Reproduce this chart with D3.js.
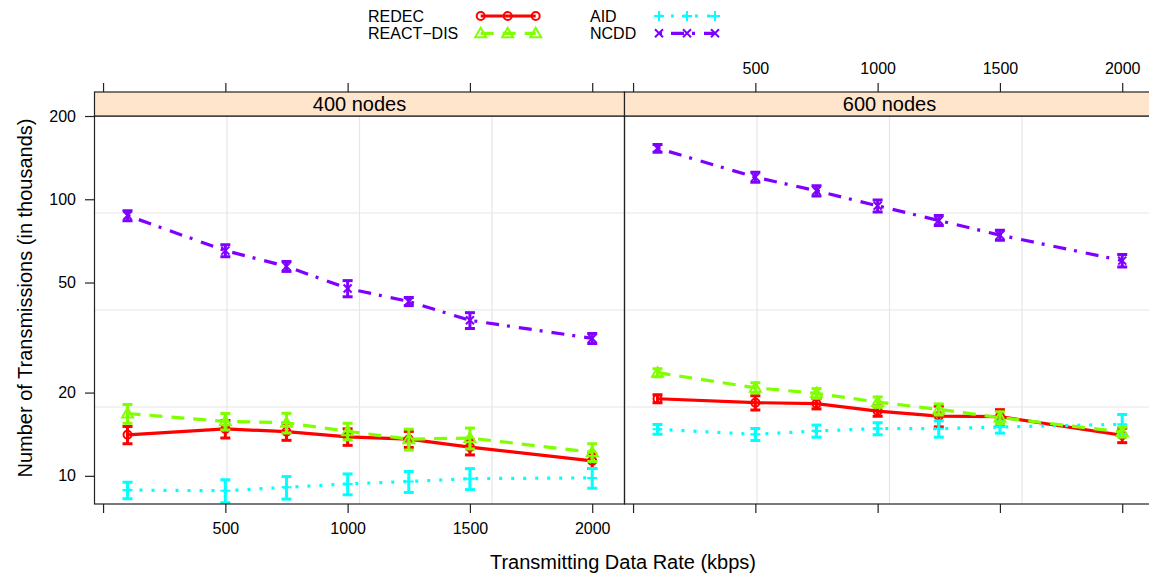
<!DOCTYPE html>
<html>
<head>
<meta charset="utf-8">
<script src="https://cdn.jsdelivr.net/npm/d3@7"></script>
<style>
  html, body { margin: 0; padding: 0; background: #fff; }
  svg { display: block; font-family: "Liberation Sans", Arial, Helvetica, sans-serif; }
</style>
</head>
<body>
<svg id="chart" width="1149" height="575"></svg>
<script>
// ---------------- data ----------------
const rates = [100, 500, 750, 1000, 1250, 1500, 2000];
const panels = ["400 nodes", "600 nodes"];
const seriesNames = ["REDEC", "AID", "REACT\u2212DIS", "NCDD"];
const seriesColors = ["#ff0000", "#00ffff", "#80ff00", "#8000ff"];

const xTicks = [0, 500, 1000, 1500, 2000];
const xTickLabels = ["", "500", "1000", "1500", "2000"];
const yTicks = [10, 20, 50, 100, 200];
const yTickLabels = ["10", "20", "50", "100", "200"];

// 400 nodes
const redec400 = [14.07, 14.78, 14.44, 13.84, 13.57, 12.7, 11.32];
const redec400Err = [1.0, 1.07, 1.0, 0.95, 0.9, 0.8, 0.7];
const aid400 = [8.88, 8.83, 9.09, 9.35, 9.54, 9.77, 9.83];
const aid400Err = [0.61, 0.84, 0.85, 0.81, 0.83, 0.85, 0.81];
const react400 = [16.8, 15.74, 15.56, 14.49, 13.57, 13.7, 12.17];
const react400Err = [1.3, 1.08, 1.27, 1.0, 1.18, 1.19, 0.9];
const ncdd400 = [87.3, 65.2, 57.2, 47.6, 42.7, 36.5, 31.4];
const ncdd400Err = [3.6, 3.25, 2.35, 3.2, 1.45, 2.4, 1.3];

// 600 nodes
const redec600 = [19.0, 18.39, 18.24, 17.15, 16.45, 16.37, 14.02];
const redec600Err = [0.63, 1.1, 0.78, 0.73, 1.42, 0.98, 0.84];
const aid600 = [14.73, 14.13, 14.53, 14.82, 14.8, 15.02, 15.36];
const aid600Err = [0.6, 0.7, 0.73, 0.74, 1.0, 0.75, 1.3];
const react600 = [23.6, 20.82, 19.87, 18.48, 17.39, 16.24, 14.4];
const react600Err = [0.8, 0.9, 0.8, 0.8, 0.8, 0.8, 0.6];
const ncdd600 = [152.9, 120.2, 107.3, 94.7, 83.8, 74.2, 60.0];
const ncdd600Err = [5.0, 5.0, 4.5, 4.7, 3.5, 3.1, 3.1];

const panelData = [
  [[redec400, redec400Err], [aid400, aid400Err], [react400, react400Err], [ncdd400, ncdd400Err]],
  [[redec600, redec600Err], [aid600, aid600Err], [react600, react600Err], [ncdd600, ncdd600Err]]
];

// ---------------- layout ----------------
const svg = d3.select("#chart");
svg.append("rect").attr("width", 1149).attr("height", 575).attr("fill", "#fff");

const panelLefts = [94.5, 624.5];
const panelW = 530;
const panelTop = 116, panelBottom = 504, stripTop = 92;
const frameColor = "#222";
const dashes = ["none", "3,9", "13,9", "3,9,13,8"];
const lineW = 3.2;

const y = d3.scaleLog().domain([7.91, 200]).range([panelBottom, panelTop]);

function markerPath(type, cx, cy) {
  if (type === 1) return `M${cx-5},${cy}H${cx+5}M${cx},${cy-5}V${cy+5}`;
  if (type === 2) return `M${cx},${cy-5.5}L${cx+5.5},${cy+4}L${cx-5.5},${cy+4}Z`;
  return `M${cx-4},${cy-4}L${cx+4},${cy+4}M${cx-4},${cy+4}L${cx+4},${cy-4}`;
}

panels.forEach((pName, pi) => {
  const left = panelLefts[pi];
  const x = d3.scaleLinear().domain([-35, 2132]).range([left, left + panelW]);
  const g = svg.append("g");

  // grid
  for (let k = 1; k < 4; k++) {
    const gx = left + panelW * k / 4;
    const gy = panelTop + (panelBottom - panelTop) * k / 4;
    g.append("line").attr("x1", gx).attr("x2", gx).attr("y1", panelTop).attr("y2", panelBottom)
      .attr("stroke", "#e6e6e6").attr("stroke-width", 1.2);
    g.append("line").attr("x1", left).attr("x2", left + panelW).attr("y1", gy).attr("y2", gy)
      .attr("stroke", "#e6e6e6").attr("stroke-width", 1.2);
  }

  // series
  const clip = "clip" + pi;
  svg.append("clipPath").attr("id", clip).append("rect")
    .attr("x", left).attr("y", panelTop).attr("width", panelW).attr("height", panelBottom - panelTop);
  const sg = g.append("g").attr("clip-path", `url(#${clip})`);

  panelData[pi].forEach(([vals, errs], si) => {
    const col = seriesColors[si];
    const pts = rates.map((r, i) => ({ r, v: vals[i], e: errs[i] }));
    const line = d3.line().x(d => x(d.r)).y(d => y(d.v));
    sg.append("path").datum(pts).attr("d", line)
      .attr("fill", "none").attr("stroke", col).attr("stroke-width", lineW)
      .attr("stroke-dasharray", dashes[si]).attr("stroke-linecap", "butt");
    pts.forEach(d => {
      const cx = x(d.r), y1 = y(d.v + d.e), y0 = y(d.v - d.e);
      sg.append("line").attr("x1", cx).attr("x2", cx).attr("y1", y1).attr("y2", y0)
        .attr("stroke", col).attr("stroke-width", 3);
      [y1, y0].forEach(yy => sg.append("line").attr("x1", cx - 5).attr("x2", cx + 5)
        .attr("y1", yy).attr("y2", yy).attr("stroke", col).attr("stroke-width", 3));
      const cy = y(d.v);
      if (si === 0) {
        sg.append("circle").attr("cx", cx).attr("cy", cy).attr("r", 4)
          .attr("fill", "none").attr("stroke", col).attr("stroke-width", 2);
      } else {
        sg.append("path").attr("d", markerPath(si, cx, cy)).attr("fill", "none")
          .attr("stroke", col).attr("stroke-width", 2);
      }
    });
  });

  // frame
  g.append("rect").attr("x", left).attr("y", panelTop).attr("width", panelW)
    .attr("height", panelBottom - panelTop).attr("fill", "none").attr("stroke", frameColor).attr("stroke-width", 1.2);
  // strip
  g.append("rect").attr("x", left).attr("y", stripTop).attr("width", panelW)
    .attr("height", panelTop - stripTop).attr("fill", "#ffe5cc").attr("stroke", frameColor).attr("stroke-width", 1.2);
  g.append("text").attr("x", left + panelW / 2).attr("y", (stripTop + panelTop) / 2)
    .attr("dy", "0.36em").attr("text-anchor", "middle").attr("font-size", 20).attr("fill", "#000").text(pName);

  // x axes
  const bottom = d3.axisBottom(x).tickValues(xTicks).tickSize(9).tickSizeOuter(0).tickPadding(9.6)
    .tickFormat((d, i) => pi === 0 ? xTickLabels[i] : "");
  const top = d3.axisTop(x).tickValues(xTicks).tickSize(9).tickSizeOuter(0).tickPadding(9)
    .tickFormat((d, i) => pi === 1 ? xTickLabels[i] : "");
  [[bottom, panelBottom], [top, stripTop]].forEach(([ax, yy]) => {
    const ag = svg.append("g").attr("transform", `translate(0,${yy})`).call(ax);
    ag.select(".domain").remove();
    ag.selectAll("line").attr("stroke", frameColor).attr("stroke-width", 1.2);
    ag.selectAll("text").attr("font-size", 16).attr("font-family", "Liberation Sans, Arial, sans-serif").attr("fill", "#000");
  });
});

// y axis
const yAx = d3.axisLeft(y).tickValues(yTicks).tickSize(9.5).tickSizeOuter(0).tickPadding(9)
  .tickFormat((d, i) => yTickLabels[i]);
const yg = svg.append("g").attr("transform", `translate(${panelLefts[0]},0)`).call(yAx);
yg.select(".domain").remove();
yg.selectAll("line").attr("stroke", frameColor).attr("stroke-width", 1.2);
yg.selectAll("text").attr("font-size", 16).attr("font-family", "Liberation Sans, Arial, sans-serif").attr("fill", "#000");

// axis titles
svg.append("text").attr("x", 623).attr("y", 569).attr("text-anchor", "middle")
  .attr("font-size", 20).attr("fill", "#000").text("Transmitting Data Rate (kbps)");
svg.append("text").attr("transform", "translate(32,298) rotate(-90)").attr("text-anchor", "middle")
  .attr("font-size", 20).attr("fill", "#000").text("Number of Transmissions (in thousands)");

// legend
const legendPos = [
  { tx: 368, ty: 16, sx: [480.7, 507.7, 535.7] },
  { tx: 590, ty: 16, sx: [659, 687, 715] },
  { tx: 368, ty: 33.3, sx: [480.7, 507.7, 535.7] },
  { tx: 590, ty: 33.3, sx: [659, 687, 715] }
];
seriesNames.forEach((name, si) => {
  const p = legendPos[si], col = seriesColors[si];
  svg.append("text").attr("x", p.tx).attr("y", p.ty).attr("dy", "0.36em")
    .attr("font-size", 16).attr("fill", "#000").text(name);
  svg.append("line").attr("x1", p.sx[0]).attr("x2", p.sx[2]).attr("y1", p.ty).attr("y2", p.ty)
    .attr("stroke", col).attr("stroke-width", lineW).attr("stroke-dasharray", dashes[si]);
  p.sx.forEach(cx => {
    if (si === 0) {
      svg.append("circle").attr("cx", cx).attr("cy", p.ty).attr("r", 4)
        .attr("fill", "none").attr("stroke", col).attr("stroke-width", 2);
    } else {
      svg.append("path").attr("d", markerPath(si, cx, p.ty)).attr("fill", "none")
        .attr("stroke", col).attr("stroke-width", 2);
    }
  });
});
</script>
</body>
</html>
